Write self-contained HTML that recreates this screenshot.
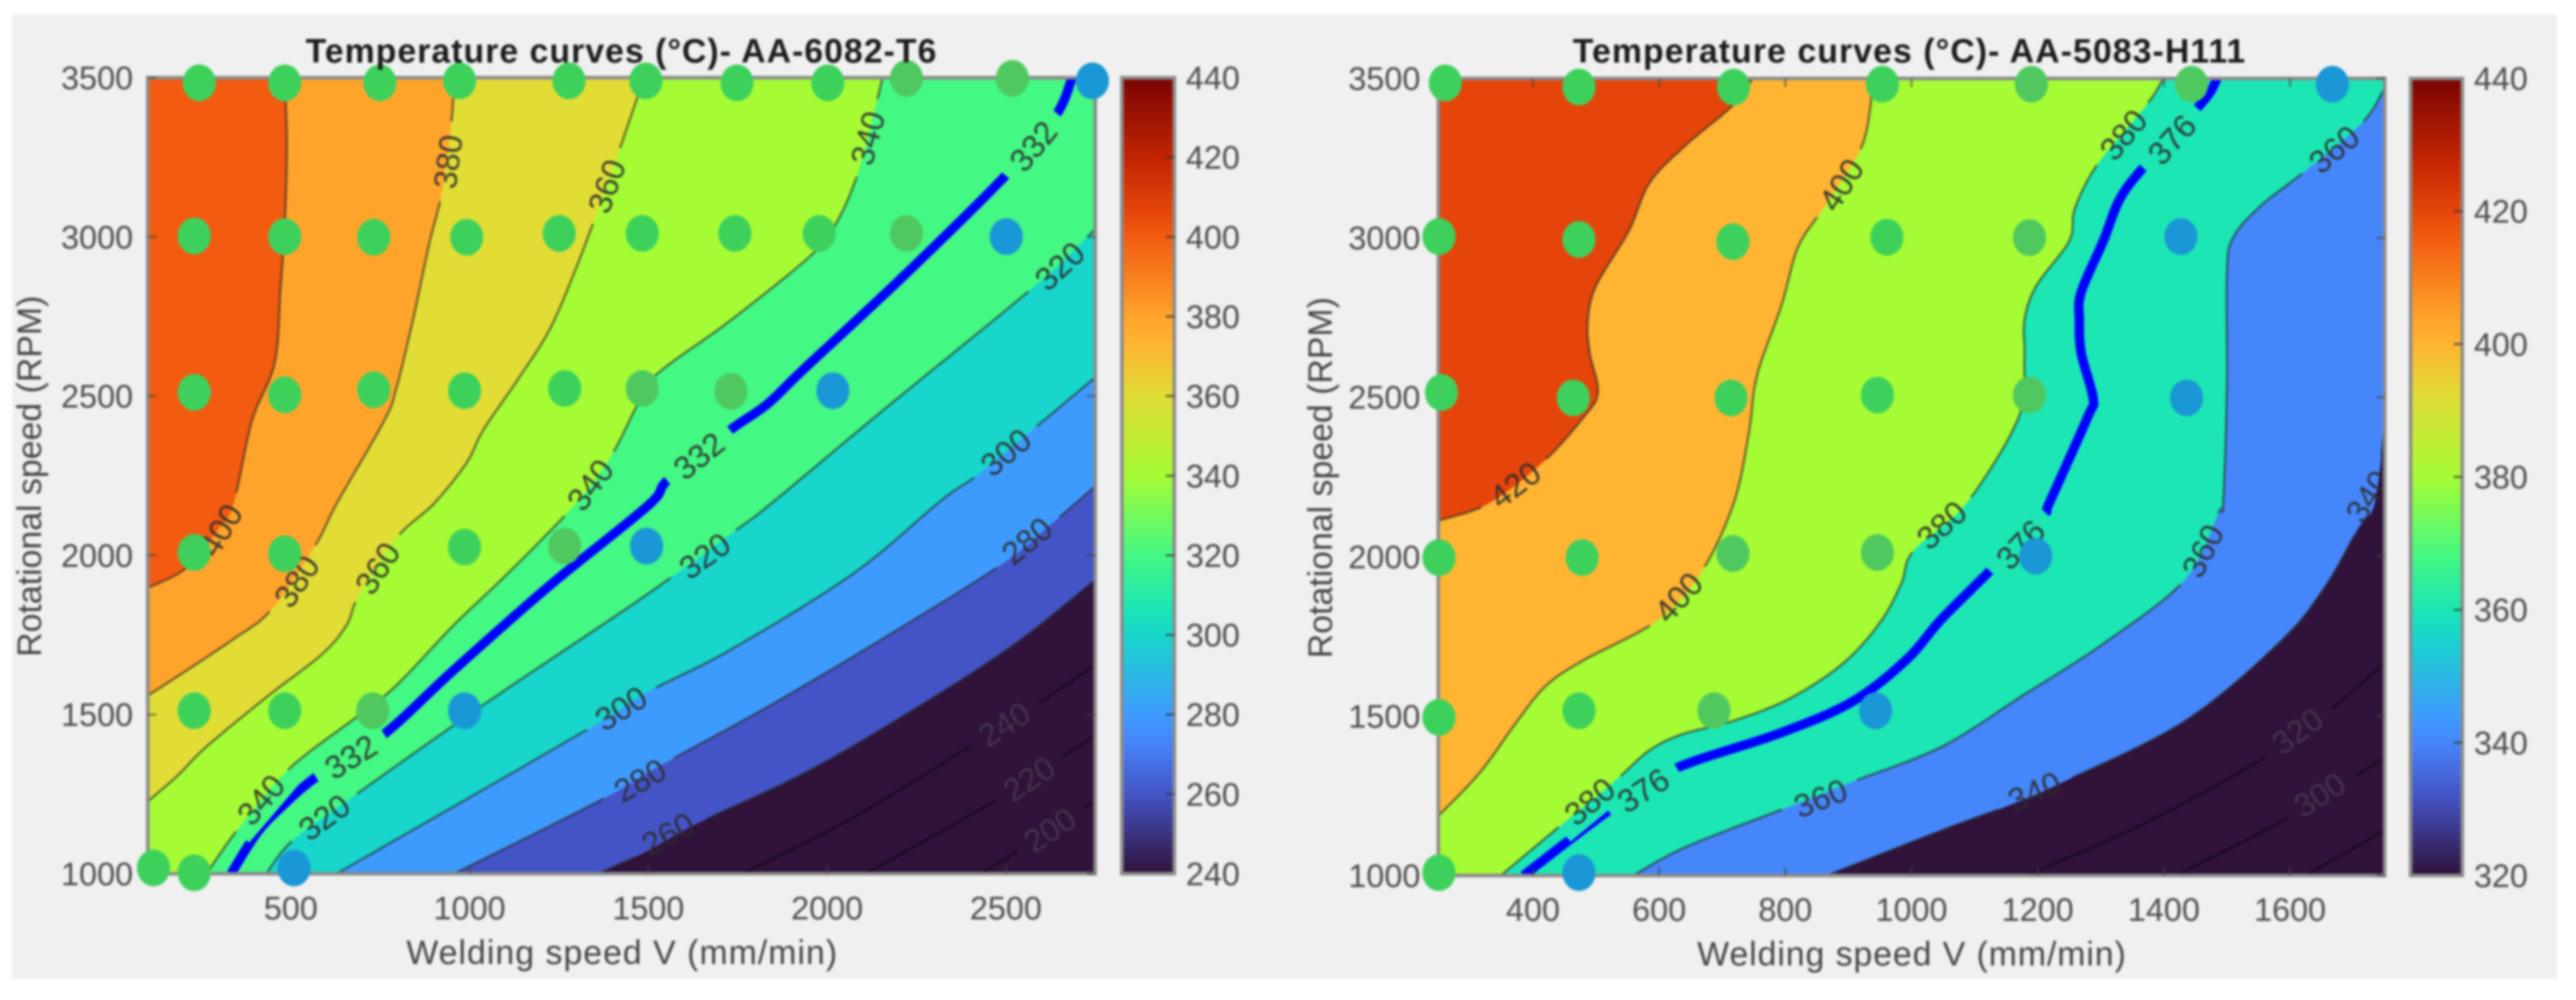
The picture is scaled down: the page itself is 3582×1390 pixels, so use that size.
<!DOCTYPE html>
<html lang="en">
<head>
<meta charset="utf-8">
<title>Temperature curves</title>
<style>
html,body{margin:0;padding:0;background:#fff;width:3582px;height:1390px;overflow:hidden}
svg{display:block;filter:blur(1.6px)}
text{font-family:"Liberation Sans",sans-serif}
.tick{font-size:45px;fill:#4d4d4d}
.title{font-size:47px;font-weight:bold;fill:#1c1c1c}
.axis{font-size:47px;fill:#454545}
.clabel{font-size:45px}
</style>
</head>
<body>
<svg id="figure" xmlns="http://www.w3.org/2000/svg" width="3582" height="1390" viewBox="0 0 3582 1390">
  <defs id="defs"></defs>
  <rect x="17" y="20" width="3539" height="1341" fill="#f0f0f0"/>
  <g id="chart-left"></g>
  <g id="chart-right"></g>
  <text class="title" x="425" y="87" textLength="877" lengthAdjust="spacing">Temperature curves (°C)- AA-6082-T6</text>
  <text class="axis" x="565" y="1340" textLength="599" lengthAdjust="spacing">Welding speed V (mm/min)</text>
  <text class="axis" transform="translate(57,662) rotate(-90)" text-anchor="middle" textLength="502" lengthAdjust="spacing">Rotational speed (RPM)</text>
  <text class="title" x="2187" y="87" textLength="935" lengthAdjust="spacing">Temperature curves (°C)- AA-5083-H111</text>
  <text class="axis" x="2360" y="1342" textLength="596" lengthAdjust="spacing">Welding speed V (mm/min)</text>
  <text class="axis" transform="translate(1852,664) rotate(-90)" text-anchor="middle" textLength="502" lengthAdjust="spacing">Rotational speed (RPM)</text>
</svg>
<script>
// ---- LEFT CHART DATA (AA-6082-T6) ----
const leftXTicks = [500, 1000, 1500, 2000, 2500];
const leftYTicks = [1000, 1500, 2000, 2500, 3000, 3500];
const leftBarTicks = [240, 260, 280, 300, 320, 340, 360, 380, 400, 420, 440];

const left400V = [483, 489, 483, 471, 455, 391, 340, 298, 206, 100];
const left400Rpm = [3500, 3290, 3039, 2836, 2605, 2422, 2162, 2083, 1959, 1898];
const left380V = [952, 952, 922, 887, 841, 795, 761, 628, 570, 449, 332, 100];
const left380Rpm = [3500, 3392, 3139, 2978, 2736, 2524, 2422, 2162, 2034, 1833, 1731, 1559];
const left360V = [1488, 1418, 1350, 1292, 1222, 1130, 1038, 992, 900, 795, 690, 656, 588, 437, 264, 183, 100];
const left360Rpm = [3500, 3270, 3057, 2885, 2705, 2544, 2393, 2291, 2162, 2054, 1873, 1781, 1690, 1559, 1399, 1308, 1227];
const left340V = [2155, 2138, 2086, 2028, 1959, 1728, 1520, 1465, 1396, 1292, 1107, 956, 795, 680, 495, 356, 264];
const left340Rpm = [3500, 3421, 3200, 3048, 2946, 2736, 2565, 2463, 2312, 2156, 1943, 1781, 1591, 1489, 1329, 1146, 1000];
const left332V = [333, 403, 471, 576, 755, 957, 1222, 1499, 1555, 1722, 1832, 1935, 2213, 2501, 2639, 2685];
const left332Rpm = [1000, 1125, 1207, 1308, 1433, 1641, 1903, 2156, 2237, 2388, 2474, 2585, 2876, 3195, 3380, 3500];
const left320V = [431, 506, 680, 1038, 1477, 1734, 1843, 2143, 2571, 2721, 2750];
const left320Rpm = [1000, 1105, 1247, 1530, 1862, 2070, 2162, 2443, 2836, 2992, 3028];
const left300V = [628, 956, 1360, 1497, 1728, 2074, 2321, 2420, 2583, 2750];
const left300Rpm = [1000, 1211, 1473, 1570, 1702, 1943, 2174, 2251, 2402, 2559];
const left280V = [957, 1360, 1531, 1843, 2189, 2490, 2633, 2750];
const left280Rpm = [1000, 1227, 1338, 1530, 1761, 1973, 2104, 2217];
const left260V = [1360, 1497, 1636, 1959, 2305, 2537, 2750];
const left260Rpm = [1000, 1071, 1157, 1329, 1559, 1731, 1923];
const left240V = [1762, 2074, 2398, 2583, 2750];
const left240Rpm = [1000, 1177, 1399, 1530, 1656];
const left220V = [2108, 2466, 2639, 2750];
const left220Rpm = [1000, 1227, 1354, 1433];
const left200V = [2432, 2537, 2710, 2750];
const left200Rpm = [1000, 1076, 1202, 1227];

const leftLabelLevels = [400, 380, 380, 360, 360, 340, 340, 340, 332, 332, 332, 320, 320, 320, 300, 300, 280, 280, 260, 240, 220, 200];
const leftLabelV = [304, 940, 517, 1384, 743, 2114, 1338, 417, 2577, 1642, 668, 2651, 1658, 594, 2500, 1424, 2559, 1477, 1555, 2496, 2565, 2623];
const leftLabelRpm = [2079, 3236, 1918, 3159, 1959, 3310, 2221, 1232, 3285, 2312, 1367, 2908, 1998, 1177, 2323, 1519, 2045, 1293, 1125, 1469, 1297, 1137];

const leftDotV = [244, 483, 749, 972, 1278, 1493, 1748, 2002, 2222, 2518, 2742, 230, 483, 732, 992, 1251, 1483, 1742, 1978, 2222, 2501, 230, 483, 732, 986, 1266, 1483, 1731, 2016, 230, 483, 986, 1266, 1495, 230, 483, 729, 986, 116, 230, 509];
const leftDotRpm = [3484, 3484, 3484, 3490, 3490, 3490, 3484, 3484, 3498, 3498, 3490, 3003, 3001, 2999, 2999, 3011, 3011, 3011, 3011, 3011, 3001, 2512, 2504, 2520, 2517, 2524, 2524, 2515, 2517, 2009, 2005, 2026, 2029, 2029, 1512, 1512, 1512, 1512, 1018, 1003, 1018];
const leftDotZone = [0, 0, 0, 0, 0, 0, 0, 0, 1, 1, 2, 0, 0, 0, 0, 0, 0, 0, 0, 1, 2, 0, 0, 0, 0, 0, 1, 1, 2, 0, 0, 0, 1, 2, 0, 0, 1, 2, 0, 0, 2];

// ---- RIGHT CHART DATA (AA-5083-H111) ----
const rightXTicks = [400, 600, 800, 1000, 1200, 1400, 1600];
const rightYTicks = [1000, 1500, 2000, 2500, 3000, 3500];
const rightBarTicks = [320, 340, 360, 380, 400, 420, 440];

const right420V = [748, 716, 643, 585, 552, 500, 487, 490, 503, 480, 415, 330, 250];
const right420Rpm = [3500, 3414, 3292, 3173, 3022, 2850, 2740, 2638, 2516, 2437, 2295, 2167, 2113];
const right400V = [935, 935, 918, 860, 820, 794, 755, 742, 718, 667, 598, 480, 421, 375, 316, 250];
const right400Rpm = [3500, 3414, 3272, 3092, 2970, 2789, 2568, 2385, 2167, 1952, 1801, 1675, 1596, 1484, 1323, 1187];
const right380V = [1399, 1375, 1295, 1259, 1250, 1198, 1179, 1179, 1170, 1087, 1003, 984, 951, 892, 807, 716, 638, 585, 533, 447, 349];
const right380Rpm = [3500, 3423, 3231, 3092, 2990, 2850, 2740, 2618, 2437, 2167, 2018, 1917, 1796, 1666, 1555, 1484, 1444, 1393, 1302, 1162, 1000];
const right376V = [1484, 1474, 1449, 1368, 1330, 1304, 1269, 1266, 1269, 1288, 1279, 1218, 1208, 1128, 1048, 991, 905, 788, 624, 519, 385];
const right376Rpm = [3500, 3459, 3398, 3222, 3121, 2990, 2830, 2740, 2638, 2496, 2437, 2167, 2128, 1963, 1805, 1675, 1544, 1444, 1334, 1202, 1000];
const right360V = [1750, 1715, 1625, 1554, 1510, 1500, 1500, 1494, 1487, 1433, 1304, 1176, 1048, 905, 801, 643, 559];
const right360Rpm = [3470, 3362, 3211, 3101, 3001, 2889, 2537, 2167, 2139, 1927, 1727, 1564, 1404, 1293, 1212, 1090, 1000];
const right340V = [1750, 1734, 1708, 1656, 1586, 1433, 1240, 1157, 1048, 866];
const right340Rpm = [2412, 2167, 2088, 1907, 1736, 1484, 1293, 1222, 1142, 1000];
const right320V = [1750, 1663, 1561, 1368, 1182];
const right320Rpm = [1666, 1519, 1372, 1162, 1000];
const right300V = [1750, 1695, 1593, 1419];
const right300Rpm = [1368, 1302, 1176, 1000];
const right280V = [1750, 1625];
const right280Rpm = [1142, 1000];

const rightLabelLevels = [420, 400, 400, 380, 380, 380, 376, 376, 376, 360, 360, 360, 340, 340, 320, 300];
const rightLabelV = [372, 889, 631, 1336, 490, 1048, 1413, 575, 1173, 1670, 1462, 856, 1195, 1724, 1612, 1647];
const rightLabelRpm = [2225, 3166, 1872, 3323, 1232, 2099, 3308, 1267, 2038, 3277, 2018, 1242, 1263, 2189, 1453, 1253];

const rightDotV = [261, 473, 718, 954, 1190, 1444, 1667, 251, 473, 717, 961, 1187, 1427, 255, 464, 714, 946, 1187, 1436, 251, 478, 717, 946, 1197, 251, 473, 687, 943, 251, 473];
const rightDotRpm = [3486, 3473, 3473, 3482, 3482, 3482, 3482, 3004, 2995, 2988, 3002, 3001, 3004, 2515, 2498, 2498, 2507, 2507, 2498, 1997, 1997, 2010, 2013, 2002, 1496, 1517, 1517, 1517, 1009, 1009];
const rightDotZone = [0, 0, 0, 0, 1, 1, 2, 0, 0, 0, 0, 1, 2, 0, 0, 0, 0, 1, 2, 0, 0, 1, 1, 2, 0, 0, 1, 2, 0, 2];

// ---- RENDERING ----
const NS = 'http://www.w3.org/2000/svg';
const turbo = [[0,'#30123b'],[.1,'#4454c6'],[.167,'#4686fb'],[.2,'#3e9bfe'],[.3,'#18d6cb'],[.333,'#1ce6b4'],[.4,'#44f884'],[.5,'#a5fc34'],[.6,'#e1dd35'],[.667,'#ffb432'],[.7,'#ffa42a'],[.8,'#f25b10'],[.833,'#e5450a'],[.9,'#c22402'],[1,'#7a0403']];
const zoneColors = ['#3dd15c', '#4fc95f', '#1a97d6'];

function hexToRgb(h) {
  return [parseInt(h.slice(1, 3), 16), parseInt(h.slice(3, 5), 16), parseInt(h.slice(5, 7), 16)];
}
function colormap(t) {
  t = Math.max(0, Math.min(1, t));
  for (let i = 1; i < turbo.length; i++) {
    if (t <= turbo[i][0] + 1e-6) {
      const a = turbo[i - 1], b = turbo[i];
      const f = (t - a[0]) / (b[0] - a[0]);
      const ca = hexToRgb(a[1]), cb = hexToRgb(b[1]);
      return 'rgb(' + ca.map((c, k) => Math.round(c + (cb[k] - c) * f)).join(',') + ')';
    }
  }
  return turbo[turbo.length - 1][1];
}
function make(tag, attrs) {
  const el = document.createElementNS(NS, tag);
  for (const k in attrs) el.setAttribute(k, attrs[k]);
  return el;
}
function smoothPath(pts) {
  let d = 'M' + pts[0][0].toFixed(1) + ' ' + pts[0][1].toFixed(1);
  for (let i = 0; i < pts.length - 1; i++) {
    const p0 = pts[i - 1] || pts[i], p1 = pts[i], p2 = pts[i + 1], p3 = pts[i + 2] || p2;
    d += 'C' + (p1[0] + (p2[0] - p0[0]) / 6).toFixed(1) + ' ' + (p1[1] + (p2[1] - p0[1]) / 6).toFixed(1) +
         ' ' + (p2[0] - (p3[0] - p1[0]) / 6).toFixed(1) + ' ' + (p2[1] - (p3[1] - p1[1]) / 6).toFixed(1) +
         ' ' + p2[0].toFixed(1) + ' ' + p2[1].toFixed(1);
  }
  return d;
}

function drawChart(cfg) {
  const root = document.getElementById(cfg.id);
  const defs = document.getElementById('defs');
  const px = cfg.plot;
  const sx = v => px.left + (v - cfg.xMin) / (cfg.xMax - cfg.xMin) * (px.right - px.left);
  const sy = r => px.bottom - (r - 1000) / 2500 * (px.bottom - px.top);
  const sBar = v => px.bottom - (v - cfg.barMin) / (cfg.barMax - cfg.barMin) * (px.bottom - px.top);
  const colorOf = v => colormap((v - cfg.barMin) / (cfg.barMax - cfg.barMin));
  const w = px.right - px.left, h = px.bottom - px.top;

  const clip = make('clipPath', {id: cfg.id + '-clip'});
  clip.appendChild(make('rect', {x: px.left, y: px.top, width: w, height: h}));
  defs.appendChild(clip);

  const bands = make('g', {'clip-path': 'url(#' + cfg.id + '-clip)'});
  
  
  root.appendChild(bands);

  const base = make('rect', {x: px.left, y: px.top, width: w, height: h, fill: colorOf(cfg.fillLevels[0])});
  
  
  bands.appendChild(base);

  const toPts = c => c.v.map((v, i) => [sx(v), sy(c.rpm[i])]);

  cfg.fillLevels.forEach(level => {
    const c = cfg.contours.find(k => k.level === level);
    const pts = toPts(c);
    const first = c.rpm[0], lastV = c.v[c.v.length - 1];
    let d = smoothPath(pts);
    if (lastV <= cfg.xMin) d += 'L' + px.left + ' ' + px.bottom;
    d += 'L' + px.right + ' ' + px.bottom;
    if (first >= 3500) d += 'L' + px.right + ' ' + px.top;
    d += 'Z';
    const band = make('path', {d: d, fill: colorOf(level - 20)});
    
    
    bands.appendChild(band);
  });

  // label placement (positions come from data through the axis functions)
  const placed = cfg.labelLevels.map((level, i) => {
    const c = cfg.contours.find(k => k.level === level);
    const pts = toPts(c);
    const x = sx(cfg.labelV[i]), y = sy(cfg.labelRpm[i]);
    let best = 0, bestD = Infinity;
    for (let j = 0; j < pts.length - 1; j++) {
      const mx = (pts[j][0] + pts[j + 1][0]) / 2, my = (pts[j][1] + pts[j + 1][1]) / 2;
      const dd = (mx - x) * (mx - x) + (my - y) * (my - y);
      if (dd < bestD) { bestD = dd; best = j; }
    }
    let a = Math.atan2(pts[best + 1][1] - pts[best][1], pts[best + 1][0] - pts[best][0]) * 180 / Math.PI;
    if (a > 90) a -= 180;
    if (a < -90) a += 180;
    if (a > 75) a -= 180;
    return {level, x, y, a};
  });

  const mask = make('mask', {id: cfg.id + '-gaps', maskUnits: 'userSpaceOnUse', x: 0, y: 0, width: 3582, height: 1390});
  mask.appendChild(make('rect', {x: 0, y: 0, width: 3582, height: 1390, fill: '#fff'}));
  placed.forEach(p => {
    mask.appendChild(make('rect', {x: p.x - 56, y: p.y - 26, width: 112, height: 52, fill: '#000',
      transform: 'rotate(' + p.a.toFixed(1) + ' ' + p.x.toFixed(1) + ' ' + p.y.toFixed(1) + ')'}));
  });
  defs.appendChild(mask);

  const clipped = make('g', {'clip-path': 'url(#' + cfg.id + '-clip)'});
  
  
  root.appendChild(clipped);
  const lines = make('g', {mask: 'url(#' + cfg.id + '-gaps)'});
  
  
  clipped.appendChild(lines);

  cfg.contours.forEach(c => {
    const isBlue = c.level === cfg.highlight;
    const dim = c.level < cfg.fillLevels[cfg.fillLevels.length - 1];
    const line = make('path', {
      d: smoothPath(toPts(c)), fill: 'none', 'stroke-linecap': 'butt',
      stroke: isBlue ? '#0000ff' : (dim ? '#190a20' : '#262626'),
      'stroke-width': isBlue ? 13 : 3,
      'stroke-opacity': isBlue ? 1 : (dim ? 1 : 0.65)
    });
    
    
    lines.appendChild(line);
  });

  placed.forEach(p => {
    const dim = p.level < cfg.fillLevels[cfg.fillLevels.length - 1];
    const t = make('text', {
      x: p.x.toFixed(1), y: p.y.toFixed(1), 'text-anchor': 'middle', 'dominant-baseline': 'central',
      class: 'clabel', fill: dim ? '#43344a' : '#2c2c2c', 'fill-opacity': dim ? 1 : 0.9,
      transform: 'rotate(' + p.a.toFixed(1) + ' ' + p.x.toFixed(1) + ' ' + p.y.toFixed(1) + ')'
    });
    t.textContent = p.level;
    
    
    clipped.appendChild(t);
  });

  // plot frame and ticks
  const frame = make('rect', {x: px.left, y: px.top, width: w, height: h, fill: 'none', stroke: '#8c8c8c', 'stroke-width': 5});
  
  
  root.appendChild(frame);

  cfg.xTicks.forEach(v => {
    const x = sx(v);
    const mark = make('path', {d: 'M' + x + ' ' + px.bottom + 'v-12M' + x + ' ' + px.top + 'v12', stroke: '#444', 'stroke-opacity': 0.6, 'stroke-width': 3});
    
    
    root.appendChild(mark);
    const t = make('text', {x: x, y: cfg.xLabelY, 'text-anchor': 'middle', class: 'tick'});
    t.textContent = v;
    
    
    root.appendChild(t);
  });
  cfg.yTicks.forEach(r => {
    const y = sy(r);
    const mark = make('path', {d: 'M' + px.left + ' ' + y + 'h12M' + px.right + ' ' + y + 'h-12', stroke: '#444', 'stroke-opacity': 0.6, 'stroke-width': 3});
    
    
    root.appendChild(mark);
    const t = make('text', {x: cfg.yLabelX, y: y + 16, 'text-anchor': 'end', class: 'tick'});
    t.textContent = r;
    
    
    root.appendChild(t);
  });

  // colorbar
  const grad = make('linearGradient', {id: cfg.id + '-grad', x1: 0, y1: 1, x2: 0, y2: 0});
  turbo.forEach(s => grad.appendChild(make('stop', {offset: s[0], 'stop-color': s[1]})));
  defs.appendChild(grad);
  const bar = make('rect', {x: cfg.bar.left, y: px.top, width: cfg.bar.right - cfg.bar.left, height: h, fill: 'url(#' + cfg.id + '-grad)', stroke: '#8c8c8c', 'stroke-width': 5});
  
  
  root.appendChild(bar);
  cfg.barTicks.forEach(v => {
    const y = sBar(v);
    if (v > cfg.barMin && v < cfg.barMax) {
      const mark = make('path', {d: 'M' + cfg.bar.right + ' ' + y + 'h-12', stroke: '#333', 'stroke-opacity': 0.7, 'stroke-width': 3});
      
      
      root.appendChild(mark);
    }
    const t = make('text', {x: cfg.barLabelX, y: y + 16, class: 'tick'});
    t.textContent = v;
    
    
    root.appendChild(t);
  });

  // measured points
  cfg.dotV.forEach((v, i) => {
    const dot = make('ellipse', {cx: sx(v).toFixed(1), cy: sy(cfg.dotRpm[i]).toFixed(1), rx: 23, ry: 25.5, fill: zoneColors[cfg.dotZone[i]]});
    
    
    root.appendChild(dot);
  });
}

drawChart({
  id: 'chart-left',
  plot: {left: 205.5, right: 1523, top: 108, bottom: 1214.5},
  xMin: 100, xMax: 2750, barMin: 240, barMax: 440, highlight: 332,
  bar: {left: 1560, right: 1633}, barLabelX: 1649, xLabelY: 1278, yLabelX: 185,
  xTicks: leftXTicks, yTicks: leftYTicks, barTicks: leftBarTicks,
  fillLevels: [400, 380, 360, 340, 320, 300, 280, 260],
  contours: [
    {level: 400, v: left400V, rpm: left400Rpm},
    {level: 380, v: left380V, rpm: left380Rpm},
    {level: 360, v: left360V, rpm: left360Rpm},
    {level: 340, v: left340V, rpm: left340Rpm},
    {level: 332, v: left332V, rpm: left332Rpm},
    {level: 320, v: left320V, rpm: left320Rpm},
    {level: 300, v: left300V, rpm: left300Rpm},
    {level: 280, v: left280V, rpm: left280Rpm},
    {level: 260, v: left260V, rpm: left260Rpm},
    {level: 240, v: left240V, rpm: left240Rpm},
    {level: 220, v: left220V, rpm: left220Rpm},
    {level: 200, v: left200V, rpm: left200Rpm}
  ],
  labelLevels: leftLabelLevels, labelV: leftLabelV, labelRpm: leftLabelRpm,
  dotV: leftDotV, dotRpm: leftDotRpm, dotZone: leftDotZone
});

drawChart({
  id: 'chart-right',
  plot: {left: 2000, right: 3316, top: 109, bottom: 1217},
  xMin: 250, xMax: 1750, barMin: 320, barMax: 440, highlight: 376,
  bar: {left: 3352, right: 3424}, barLabelX: 3440, xLabelY: 1280, yLabelX: 1975,
  xTicks: rightXTicks, yTicks: rightYTicks, barTicks: rightBarTicks,
  fillLevels: [420, 400, 380, 360, 340],
  contours: [
    {level: 420, v: right420V, rpm: right420Rpm},
    {level: 400, v: right400V, rpm: right400Rpm},
    {level: 380, v: right380V, rpm: right380Rpm},
    {level: 376, v: right376V, rpm: right376Rpm},
    {level: 360, v: right360V, rpm: right360Rpm},
    {level: 340, v: right340V, rpm: right340Rpm},
    {level: 320, v: right320V, rpm: right320Rpm},
    {level: 300, v: right300V, rpm: right300Rpm},
    {level: 280, v: right280V, rpm: right280Rpm}
  ],
  labelLevels: rightLabelLevels, labelV: rightLabelV, labelRpm: rightLabelRpm,
  dotV: rightDotV, dotRpm: rightDotRpm, dotZone: rightDotZone
});
</script>
</body>
</html>
